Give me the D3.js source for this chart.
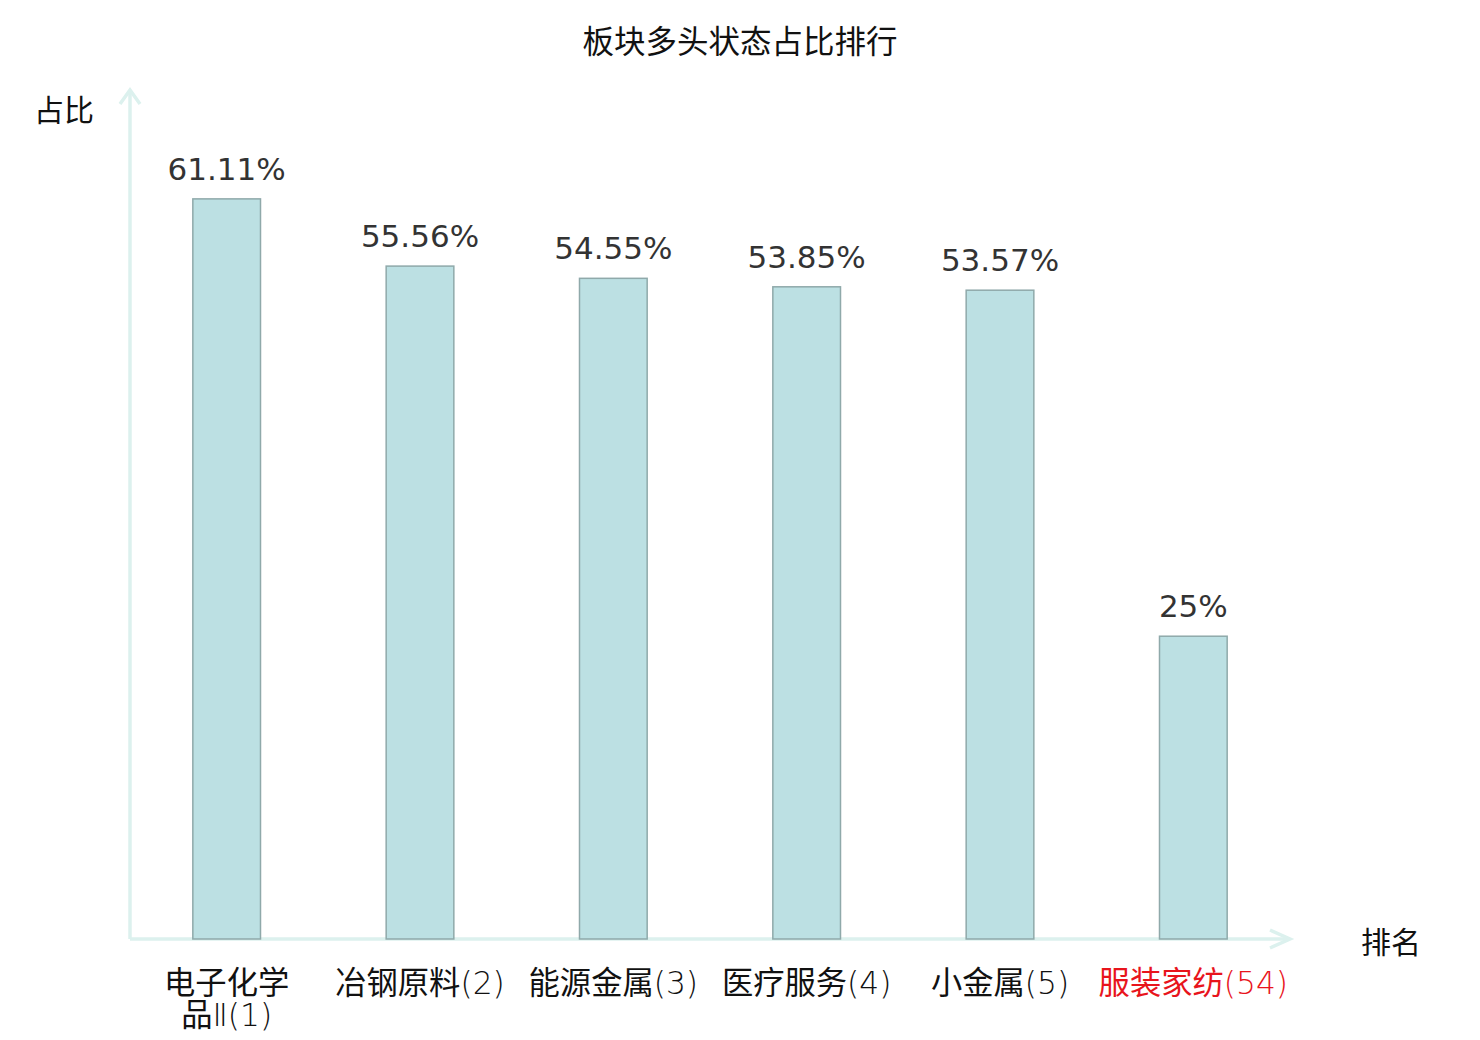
<!DOCTYPE html>
<html>
<head>
<meta charset="utf-8">
<script src="https://cdn.jsdelivr.net/npm/d3@7"></script>
<style>
  body { margin: 0; background: #fff; }
  text { font-family: "DejaVu Sans", "Noto Sans CJK SC", sans-serif; }
</style>
</head>
<body>
<div id="chart"></div>
<script>
// sectors, their rank and share of bullish stocks (%)
var sectors = ["电子化学品", "冶钢原料", "能源金属", "医疗服务", "小金属", "服装家纺"];
var suffixes = ["Ⅱ", "", "", "", "", ""];
var ranks = [1, 2, 3, 4, 5, 54];
var shares = [61.11, 55.56, 54.55, 53.85, 53.57, 25];
var shareLabels = ["61.11%", "55.56%", "54.55%", "53.85%", "53.57%", "25%"];

var width = 1480, height = 1040;
var margin = {top: 90, right: 190, bottom: 101, left: 130};

var svg = d3.select("#chart")
  .append("svg")
    .attr("width", width)
    .attr("height", height);

var x = d3.scaleBand()
  .domain(d3.range(sectors.length))
  .range([margin.left, width - margin.right])
  .paddingInner(0.65)
  .paddingOuter(0.325);

var y = d3.scaleLinear()
  .domain([0, 70.1])
  .range([height - margin.bottom, margin.top]);

var axisColor = "#dcf1ee";
var x0 = margin.left, y0 = height - margin.bottom;

// title
svg.append("text")
  .attr("x", width / 2)
  .attr("y", 53)
  .attr("text-anchor", "middle")
  .style("font-size", "31.5px")
  .style("fill", "#111")
  .text("板块多头状态占比排行");

// axes with arrows
svg.append("line")
  .attr("x1", x0).attr("y1", y0)
  .attr("x2", x0).attr("y2", margin.top)
  .style("stroke", axisColor).style("stroke-width", 3.5);
svg.append("path")
  .attr("d", "M" + (x0 - 10) + "," + (margin.top + 14) + "L" + x0 + "," + margin.top + "L" + (x0 + 10) + "," + (margin.top + 14))
  .style("fill", "none").style("stroke", axisColor).style("stroke-width", 3.5);

var xEnd = width - margin.right;
svg.append("line")
  .attr("x1", x0).attr("y1", y0)
  .attr("x2", xEnd).attr("y2", y0)
  .style("stroke", axisColor).style("stroke-width", 3.5);
svg.append("path")
  .attr("d", "M" + (xEnd - 20) + "," + (y0 - 9) + "L" + xEnd + "," + y0 + "L" + (xEnd - 20) + "," + (y0 + 9))
  .style("fill", "none").style("stroke", axisColor).style("stroke-width", 3.5);

// axis names
svg.append("text")
  .attr("x", 34).attr("y", 121)
  .style("font-size", "30px").style("fill", "#111")
  .text("占比");
svg.append("text")
  .attr("x", 1361).attr("y", 953)
  .style("font-size", "30px").style("fill", "#111")
  .text("排名");

// bars
svg.selectAll("rect.bar")
  .data(shares)
  .enter()
  .append("rect")
    .attr("class", "bar")
    .attr("x", function(d, i) { return x(i); })
    .attr("y", function(d) { return y(d); })
    .attr("width", x.bandwidth())
    .attr("height", function(d) { return y(0) - y(d); })
    .style("fill", "#bce0e3")
    .style("stroke", "#8fa9aa")
    .style("stroke-width", 1.5);

// value labels
svg.selectAll("text.val")
  .data(shares)
  .enter()
  .append("text")
    .attr("class", "val")
    .attr("x", function(d, i) { return x(i) + x.bandwidth() / 2; })
    .attr("y", function(d) { return y(d) - 19; })
    .attr("text-anchor", "middle")
    .style("font-size", "31px")
    .style("fill", "#333")
    .text(function(d, i) { return shareLabels[i]; });

// category labels (name + rank)
var cat = svg.selectAll("text.cat")
  .data(sectors)
  .enter()
  .append("text")
    .attr("class", "cat")
    .attr("x", function(d, i) { return x(i) + x.bandwidth() / 2; })
    .attr("y", 994)
    .attr("text-anchor", "middle")
    .style("font-size", "31.3px")
    .style("fill", function(d, i) { return i === sectors.length - 1 ? "#e8141c" : "#111"; });

cat.each(function(d, i) {
  var t = d3.select(this);
  // long names wrap after four characters
  if (d.length > 4) {
    t.append("tspan").attr("x", t.attr("x")).text(d.slice(0, 4));
    var second = t.append("tspan").attr("x", t.attr("x")).attr("dy", 32);
    second.append("tspan").text(d.slice(4));
    second.append("tspan").style("font-weight", 200).text(suffixes[i] + "(" + ranks[i] + ")");
  } else {
    t.append("tspan").text(d);
    t.append("tspan").style("font-weight", 200).text(suffixes[i] + "(" + ranks[i] + ")");
  }
});
</script>
</body>
</html>
